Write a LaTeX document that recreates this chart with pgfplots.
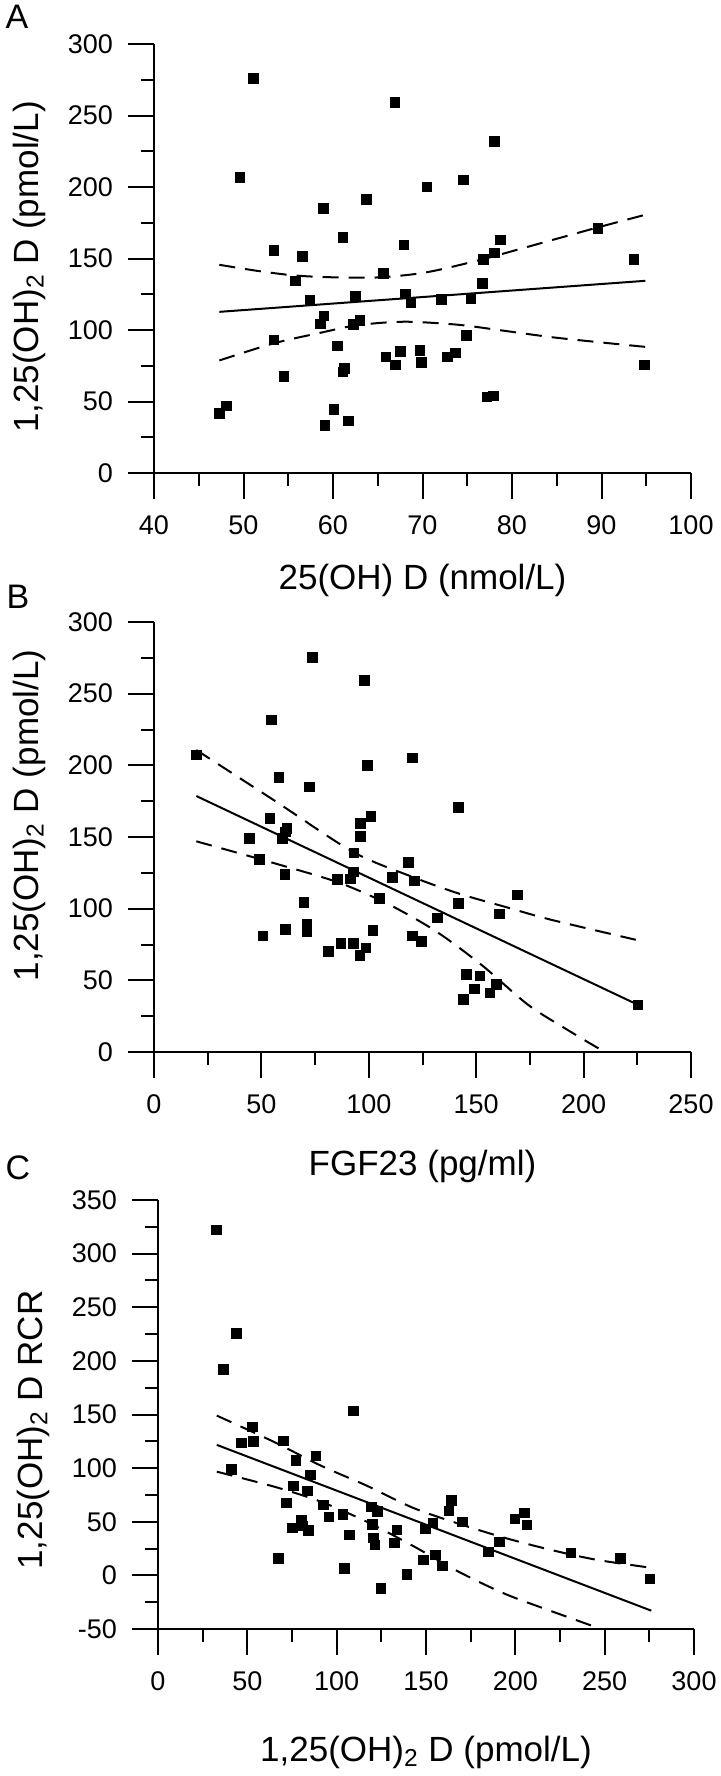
\documentclass[border=0pt]{standalone}
\usepackage{pgfplots}
\pgfplotsset{compat=1.18}
\usepackage{fontspec}
\setmainfont{Liberation Sans}
\begin{document}
\begin{tikzpicture}
\path[use as bounding box] (0,0) rectangle (360pt,-888pt);
\pgfplotsset{
  myax/.style={
    scale only axis, anchor=south west,
    axis x line*=bottom, axis y line*=left,
    axis line style={line width=1pt, -},
    tick align=outside,
    major tick length=13pt, minor tick length=6.5pt,
    every tick/.style={black, line width=1pt},
    minor x tick num=1, minor y tick num=1,
    tick label style={font=\fontsize{13.5}{16}\selectfont},
    label style={font=\fontsize{17.5}{20}\selectfont},
    xticklabel style={yshift=-5pt},
    yticklabel style={xshift=-4pt},
  },
  pts/.style={only marks, mark=square*, mark size=2.4pt, mark options={fill=black, draw=black, solid}},
  reg/.style={black, line width=1pt},
  ci/.style={black, line width=1pt, dash pattern=on 8pt off 5pt, smooth},
}
\node[font=\fontsize{17}{20}\selectfont] at (8.5pt,-8.5pt) {A};
\node[font=\fontsize{17}{20}\selectfont] at (9pt,-298.5pt) {B};
\node[font=\fontsize{17}{20}\selectfont] at (9pt,-584pt) {C};
% Panel A
\begin{axis}[myax, at={(77pt,-236.5pt)}, width=268.5pt, height=214.5pt,
  xmin=40, xmax=100, ymin=0, ymax=300,
  xtick={40,50,...,100}, xticklabels={40,50,60,70,80,90,100},
  ytick={0,50,...,300}, yticklabels={0,50,100,150,200,250,300},
  xlabel={25(OH) D (nmol/L)},
  xlabel style={at={(axis description cs:0.5,-0.251)}, anchor=center},
  ylabel={1,25(OH)\textsubscript{2} D (pmol/L)},
  ylabel style={at={(axis description cs:-0.232,0.48)}, anchor=center}]
\addplot[pts] coordinates {
(47.3,41.5) (48.1,47) (49.6,206.8) (51.1,275.8) (53.4,155.6) (53.4,93.2) (54.5,67.7)
(55.8,134.4) (56.6,151.4) (57.4,120.7) (58.6,104.4) (59.0,109.9) (58.9,185.1) (59.1,33.2)
(60.1,44.5) (60.5,88.9) (61.1,164.9) (61.1,70.7) (61.3,73.2) (61.7,36.5) (62.3,103.9)
(62.5,123.7) (63.0,106.9) (63.7,191.4) (65.6,139.4) (65.9,81.2) (66.9,259.3) (67.0,75.7)
(67.5,84.9) (67.9,159.4) (68.1,125.2) (68.7,119.4) (69.7,85.7) (69.9,77.4) (70.5,200.1)
(72.1,121.2) (72.8,81.2) (73.7,83.9) (74.6,205.1) (74.9,96.2) (75.4,121.9) (76.7,132.6)
(76.8,149.4) (77.2,53.2) (77.9,54) (78.0,231.8) (78.0,153.9) (78.7,163.1) (89.6,170.9)
(93.6,149.4) (94.8,75.7)};
\addplot[reg] coordinates {(47.3,112.7) (94.9,134.4)};
\addplot[ci] coordinates {(47.3,145.6) (51.5,141.4) (55.6,138.2) (59.7,136.9) (64.8,136.7) (69.0,139.0) (72.0,142.3) (76.8,149.6) (80.8,156.5) (85.4,164.5) (89.5,171.6) (94.9,180.6)};
\addplot[ci] coordinates {(47.3,78.7) (53.4,90.7) (58.7,98.2) (62.3,103.0) (66.0,105.3) (69.0,105.7) (74.1,103.6) (79.2,99.4) (84.4,95.0) (89.5,91.6) (94.9,88.2)};
\end{axis}
% Panel B
\begin{axis}[myax, at={(77pt,-526pt)}, width=268.5pt, height=215pt,
  xmin=0, xmax=250, ymin=0, ymax=300,
  xtick={0,50,...,250}, xticklabels={0,50,100,150,200,250},
  ytick={0,50,...,300}, yticklabels={0,50,100,150,200,250,300},
  xlabel={FGF23 (pg/ml)},
  xlabel style={at={(axis description cs:0.5,-0.267)}, anchor=center},
  ylabel={1,25(OH)\textsubscript{2} D (pmol/L)},
  ylabel style={at={(axis description cs:-0.232,0.55)}, anchor=center}]
\addplot[pts] coordinates {
(19.7,207.2) (44.3,149.2) (49.0,134.2) (50.7,81.0) (53.9,163.1) (54.7,231.8) (58.2,191.4)
(59.7,149.2) (61.0,123.8) (61.2,153.7) (61.8,155.9) (61.2,85.6) (69.7,104.3) (71.2,89.0)
(71.2,83.7) (72.3,185.0) (73.8,275.4) (81.3,70.3) (85.5,120.3) (87.0,75.7) (91.5,120.9)
(92.8,125.7) (92.8,75.7) (93.0,139.0) (95.8,67.6) (96.0,150.5) (96.2,159.6) (97.9,259.1)
(98.6,72.7) (99.4,200.0) (100.9,164.4) (102.0,84.8) (104.8,107.0) (111.0,121.9) (118.3,132.4)
(120.4,205.3) (121.3,119.5) (120.4,81.0) (124.5,77.0) (132.0,93.6) (141.6,170.6) (141.6,103.7)
(144.1,36.6) (145.4,54.3) (149.3,44.1) (151.8,53.2) (156.3,41.2) (159.5,47.3) (160.8,96.3)
(169.2,109.6) (225.2,32.9)};
\addplot[reg] coordinates {(19.7,178.6) (224.5,33.5)};
\addplot[ci] coordinates {(19.7,210.7) (56.5,175.0) (92.8,139.5) (120.6,122.0) (142,110.5) (163.4,101.3) (184.8,92.3) (224.3,78.3)};
\addplot[ci] coordinates {(19.7,147.0) (56.5,131.5) (86.4,118.0) (109.9,102.5) (131.3,84.2) (152.7,60.5) (174.1,33.0) (193.0,15.0) (209.8,0)};
\end{axis}
% Panel C
\begin{axis}[myax, at={(79pt,-814.5pt)}, width=268pt, height=214.5pt,
  xmin=0, xmax=300, ymin=-50, ymax=350,
  xtick={0,50,...,300}, xticklabels={0,50,100,150,200,250,300},
  ytick={-50,0,...,350}, yticklabels={-50,0,50,100,150,200,250,300,350},
  xlabel={1,25(OH)\textsubscript{2} D (pmol/L)},
  xlabel style={at={(axis description cs:0.5,-0.288)}, anchor=center},
  ylabel={1,25(OH)\textsubscript{2} D RCR},
  ylabel style={at={(axis description cs:-0.233,0.464)}, anchor=center}]
\addplot[pts] coordinates {
(32.6,322.3) (36.5,191.9) (41.1,98.6) (43.9,225.5) (46.8,123.6) (52.7,138.6) (53.4,124.7)
(67.3,16.1) (70.1,125.5) (71.9,67.6) (75.3,44.4) (75.8,83.6) (77.1,107.2) (80.4,51.2)
(80.9,46.3) (83.5,78.8) (84.3,41.8) (85.3,93.7) (88.4,111.3) (92.7,65.7) (95.6,54.5)
(103.5,56.8) (104.3,6.7) (107.1,37.7) (109.2,153.5) (119.4,63.9) (119.9,47.4) (120.7,35.1)
(121.5,28.4) (122.8,59.4) (124.8,-11.9) (132.3,30.2) (133.8,42.6) (139.2,0.7) (148.7,14.6)
(149.8,43.3) (153.9,48.9) (155.4,19.0) (159.3,9.0) (162.9,60.1) (164.1,69.8) (170.3,50.0)
(184.9,22.0) (191.1,31.4) (199.8,52.7) (205.2,58.3) (206.5,47.1) (231.2,20.9) (258.9,15.7)
(275.4,-3.4)};
\addplot[reg] coordinates {(32.9,121.7) (276.1,-32.9)};
\addplot[ci] coordinates {(32.9,149) (65.5,124) (91.2,102.3) (116.9,83.6) (142.6,63.1) (168.3,48.2) (193.9,35.1) (219.6,23.9) (245.3,14.6) (276.1,7.1)};
\addplot[ci] coordinates {(32.9,96.7) (65.5,82.5) (91.2,68.7) (116.9,50.0) (142.6,27.6) (168.3,3.4) (193.9,-17.0) (219.6,-33.0) (248.0,-50)};
\end{axis}
\end{tikzpicture}
\end{document}
